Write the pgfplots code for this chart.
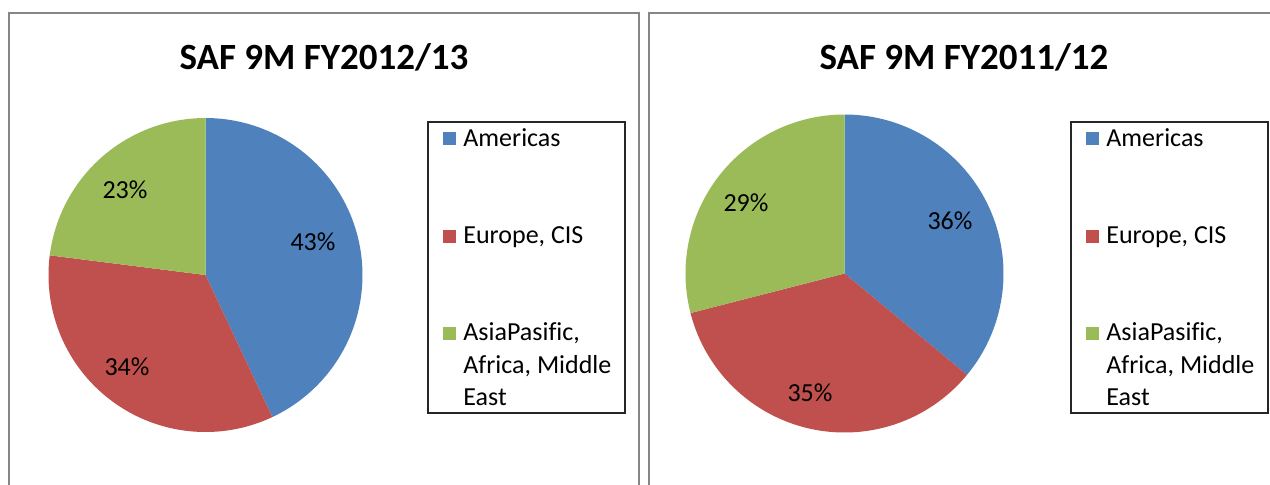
\documentclass[border=0pt]{standalone}
\usepackage{pgfplots}
\pgfplotsset{compat=1.18}
\usepackage{fontspec}
\setmainfont{Carlito}[Ligatures=CommonOff]
\definecolor{cA}{HTML}{4F81BD}
\definecolor{cB}{HTML}{C0504D}
\definecolor{cC}{HTML}{9BBB59}
\definecolor{frame}{HTML}{868686}
\newcommand\lf{\fontsize{13}{15}\selectfont}
\tikzset{lab/.style={font=\lf}, leg/.style={font=\lf, anchor=base west, inner sep=0pt}}
% data: shares in percent (Americas, Europe CIS, AsiaPasific Africa Middle East)
\def\LA{43}\def\LB{34}\def\LC{23}
\def\RA{36}\def\RB{35}\def\RC{29}
\begin{document}
\begin{tikzpicture}
\pgfmathsetmacro{\laA}{90-3.6*\LA}
\pgfmathsetmacro{\laB}{\laA-3.6*\LB}
\pgfmathsetmacro{\raA}{90-3.6*\RA}
\pgfmathsetmacro{\raB}{\raA-3.6*\RB}
\begin{axis}[
  at={(0,0)}, anchor=south west,
  width=635pt, height=242pt, scale only axis,
  xmin=0, xmax=1270, ymin=0, ymax=484, y dir=reverse,
  hide axis, clip=false,
]
% frames
\draw[frame, line width=1.2pt] (axis cs:9,490) -- (axis cs:9,13) -- (axis cs:639,13) -- (axis cs:639,490);
\draw[frame, line width=1.2pt] (axis cs:649,490) -- (axis cs:649,13) -- (axis cs:1275,13);
% left pie
\addplot[fill=cA, draw=none, domain=\laA:90, samples=120] ({205.5+157*cos(x)},{275-157*sin(x)}) -- (axis cs:205.5,275) -- cycle;
\addplot[fill=cB, draw=none, domain=\laB:\laA, samples=120] ({205.5+157*cos(x)},{275-157*sin(x)}) -- (axis cs:205.5,275) -- cycle;
\addplot[fill=cC, draw=none, domain=-270:\laB, samples=120] ({205.5+157*cos(x)},{275-157*sin(x)}) -- (axis cs:205.5,275) -- cycle;
% right pie
\addplot[fill=cA, draw=none, domain=\raA:90, samples=120] ({844.5+159*cos(x)},{273.5-159*sin(x)}) -- (axis cs:844.5,273.5) -- cycle;
\addplot[fill=cB, draw=none, domain=\raB:\raA, samples=120] ({844.5+159*cos(x)},{273.5-159*sin(x)}) -- (axis cs:844.5,273.5) -- cycle;
\addplot[fill=cC, draw=none, domain=-270:\raB, samples=120] ({844.5+159*cos(x)},{273.5-159*sin(x)}) -- (axis cs:844.5,273.5) -- cycle;
% percent labels
\node[lab] at (axis cs:313,242) {\LA\%};
\node[lab] at (axis cs:127,367) {\LB\%};
\node[lab] at (axis cs:125,190) {\LC\%};
\node[lab] at (axis cs:950,221) {\RA\%};
\node[lab] at (axis cs:810,393) {\RB\%};
\node[lab] at (axis cs:746,203) {\RC\%};
% titles
\node[anchor=base, font=\fontsize{18.5}{22}\selectfont\bfseries] at (axis cs:324,69) {SAF 9M FY2012/13};
\node[anchor=base, font=\fontsize{18.5}{22}\selectfont\bfseries] at (axis cs:964,69) {SAF 9M FY2011/12};
% legends
\draw[black!85, line width=0.6pt] (axis cs:428,122) rectangle (axis cs:625,413);
\draw[black!85, line width=0.6pt] (axis cs:1071,122) rectangle (axis cs:1268,413);
\fill[cA] (axis cs:443,132) rectangle (axis cs:456,145);
\fill[cB] (axis cs:443,230) rectangle (axis cs:456,243);
\fill[cC] (axis cs:443,327) rectangle (axis cs:456,340);
\node[leg] at (axis cs:463,146) {Americas};
\node[leg] at (axis cs:463,243) {Europe, CIS};
\node[leg] at (axis cs:463,340) {AsiaPasific,};
\node[leg] at (axis cs:463,373) {Africa, Middle};
\node[leg] at (axis cs:463,405) {East};
\fill[cA] (axis cs:1086,132) rectangle (axis cs:1099,145);
\fill[cB] (axis cs:1086,230) rectangle (axis cs:1099,243);
\fill[cC] (axis cs:1086,327) rectangle (axis cs:1099,340);
\node[leg] at (axis cs:1106,146) {Americas};
\node[leg] at (axis cs:1106,243) {Europe, CIS};
\node[leg] at (axis cs:1106,340) {AsiaPasific,};
\node[leg] at (axis cs:1106,373) {Africa, Middle};
\node[leg] at (axis cs:1106,405) {East};
\end{axis}
\pgfresetboundingbox
\path (0,0) rectangle (635pt,242pt);
\end{tikzpicture}
\end{document}
